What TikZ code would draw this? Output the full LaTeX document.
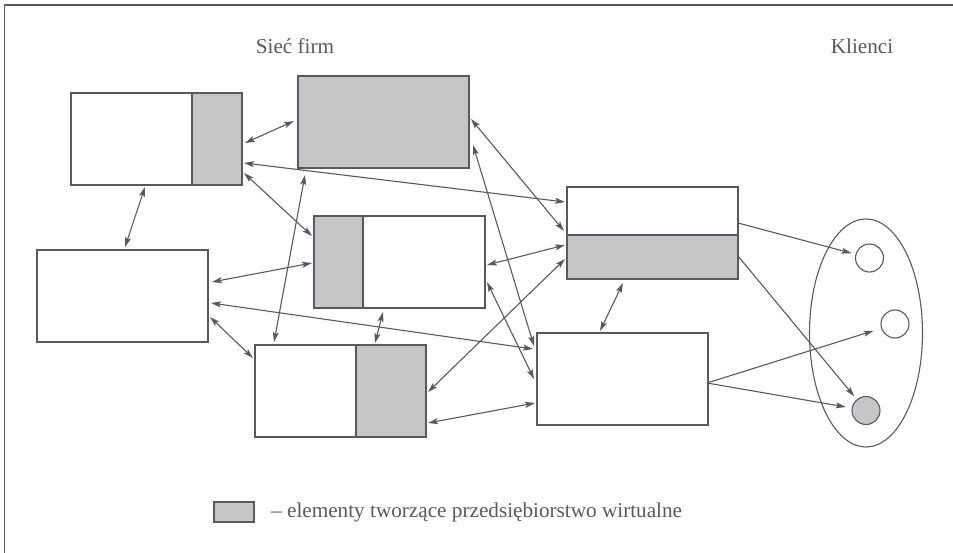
\documentclass[tikz,border=0pt]{standalone}
\usepackage{fontspec}
\setmainfont{Liberation Serif}
\usetikzlibrary{arrows.meta,calc,shapes.geometric}
\definecolor{ln}{HTML}{595959}
\definecolor{partc}{HTML}{C6C6C8}
\begin{document}
\begin{tikzpicture}[x=1pt,y=-1pt,
  box/.style={draw=ln,line width=1.4pt,minimum width=171pt,minimum height=92pt,anchor=north west,inner sep=0pt,outer sep=0pt},
  partbox/.style={fill=partc,draw=ln,line width=1.4pt},
  tip/.tip={Stealth[length=10pt,width=6pt,inset=2.2pt]},
  link/.style={draw=ln,line width=1.1pt,tip-tip},
  one/.style={draw=ln,line width=1.1pt,-tip},
  client/.style={circle,draw=ln,line width=1.1pt,minimum size=28pt,inner sep=0pt},
  lbl/.style={font=\fontsize{21.2}{25}\selectfont,text=ln,inner sep=0pt,anchor=base}]
\useasboundingbox (0,0) rectangle (953,553);
\draw[ln,line width=1.5pt] (4.5,553) -- (4.5,5) -- (953,5);

% boxes
\node[box] (A) at (71,93) {};
\node[box,fill=partc] (B) at (298,76) {};
\node[box] (C) at (314,216) {};
\node[box] (D) at (567,187) {};
\node[box] (E) at (37,250) {};
\node[box] (F) at (255,345) {};
\node[box] (G) at (537,333) {};
\filldraw[partbox] ($(A.north west)+(121,0)$) rectangle (A.south east);
\filldraw[partbox] (C.north west) rectangle ($(C.south west)+(49,0)$);
\filldraw[partbox] ($(D.north west)+(0,48)$) rectangle (D.south east);
\filldraw[partbox] ($(F.north west)+(101,0)$) rectangle (F.south east);

% clients
\node[ellipse,draw=ln,line width=1.1pt,minimum width=113pt,minimum height=228pt,inner sep=0pt] (K) at (866,333) {};
\node[client] (c1) at (869.5,258) {};
\node[client] (c2) at (895,324) {};
\node[client,fill=partc] (c3) at (866,410.5) {};

% labels
\node[lbl] (t1) at (295,54) {Sieć firm};
\node[lbl] (t2) at (862,54) {Klienci};
\node[draw=ln,fill=partc,line width=1.2pt,minimum width=40pt,minimum height=20pt,inner sep=0pt] (L) at (234,512) {};
\node[lbl,anchor=base west] (lt) at (271,517) {– elementy tworzące przedsiębiorstwo wirtualne};

% links
\draw[link] ($(A.north west)+(174,50)$) -- ($(B.north west)+(-4,45)$);
\draw[link] ($(A.north west)+(74,94)$) -- ($(E.north west)+(88,-3)$);
\draw[link] ($(A.north west)+(173,70)$) -- ($(D.north west)+(-2,15)$);
\draw[link] ($(A.north west)+(173,80)$) -- ($(C.north west)+(-2,20)$);
\draw[link] ($(B.north west)+(7,99)$) -- ($(F.north west)+(19,-3)$);
\draw[link] ($(B.north west)+(173,43)$) -- ($(D.north west)+(-3,44)$);
\draw[link] ($(B.north west)+(175,69)$) -- ($(G.north west)+(-3,13)$);
\draw[link] ($(E.north west)+(175,32)$) -- ($(C.north west)+(-2,47)$);
\draw[link] ($(E.north west)+(174,53)$) -- ($(G.north west)+(-4,16)$);
\draw[link] ($(E.north west)+(173,67)$) -- ($(F.north west)+(-2,13)$);
\draw[link] ($(C.north west)+(69,96)$) -- ($(F.north west)+(120,-2)$);
\draw[link] ($(C.north west)+(173,66)$) -- ($(G.north west)+(-3,46)$);
\draw[link] ($(C.north west)+(173,49)$) -- ($(D.north west)+(-2,58)$);
\draw[link] ($(F.north west)+(173,47)$) -- ($(D.north west)+(-2,72)$);
\draw[link] ($(F.north west)+(173,78)$) -- ($(G.north west)+(-2,70)$);
\draw[link] ($(D.north west)+(56,96)$) -- ($(G.north west)+(63,-2)$);

\draw[one,shorten >=4pt] ($(D.north west)+(171,36)$) -- (c1);
\draw[one,shorten >=4pt] ($(D.north west)+(171,69)$) -- (c3);
\draw[one,shorten >=8pt] ($(G.north west)+(170,50)$) -- (c2);
\draw[one,shorten >=6pt] ($(G.north west)+(170,50)$) -- (c3);
\end{tikzpicture}
\end{document}
